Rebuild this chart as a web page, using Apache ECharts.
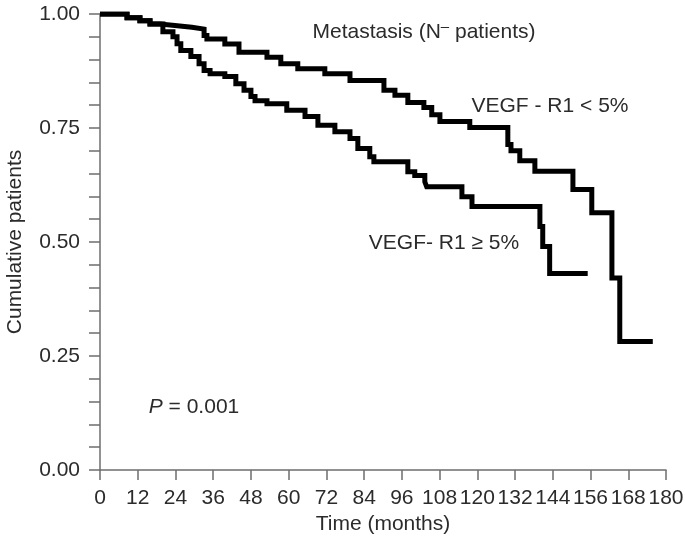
<!DOCTYPE html>
<html>
<head>
<meta charset="utf-8">
<script src="https://cdn.jsdelivr.net/npm/echarts@6/dist/echarts.min.js"></script>
<style>html,body{margin:0;padding:0;background:#fff}#c{width:685px;height:542px}</style>
</head>
<body>
<div id="c"></div>
<script>
// Time of each drop (months) and cumulative value after the drop
var lowTimes  = [0, 8.6, 12.7, 15.9, 19.1, 23.8, 29.2, 33.1, 34.0, 39.7, 44.2, 53.1, 57.5, 62.9, 71.5, 79.5, 90.3, 93.8, 97.9, 103.0, 105.5, 108.1, 117.6, 129.7, 130.7, 133.5, 138.3, 150.4, 156.4, 162.8, 165.3, 175.8];
var lowValues = [1.000, 0.992, 0.985, 0.978, 0.975, 0.971, 0.967, 0.953, 0.945, 0.934, 0.916, 0.905, 0.891, 0.880, 0.869, 0.854, 0.833, 0.822, 0.806, 0.795, 0.779, 0.764, 0.751, 0.714, 0.700, 0.678, 0.655, 0.615, 0.564, 0.421, 0.282, 0.282];

var highTimes  = [0, 8.6, 12.7, 15.9, 20.0, 23.2, 24.5, 25.7, 28.9, 31.5, 33.1, 35.0, 39.7, 43.2, 45.8, 48.0, 49.3, 53.1, 59.4, 65.2, 69.3, 74.7, 79.5, 82.0, 85.8, 87.1, 97.9, 100.1, 103.3, 103.9, 115.1, 118.3, 139.9, 140.8, 143.0, 155.1];
var highValues = [1.000, 0.992, 0.985, 0.978, 0.961, 0.950, 0.935, 0.920, 0.907, 0.891, 0.876, 0.869, 0.863, 0.847, 0.833, 0.819, 0.810, 0.803, 0.789, 0.775, 0.756, 0.742, 0.727, 0.705, 0.687, 0.676, 0.654, 0.646, 0.632, 0.621, 0.599, 0.578, 0.534, 0.490, 0.431, 0.431];

var xTicks = [0, 12, 24, 36, 48, 60, 72, 84, 96, 108, 120, 132, 144, 156, 168, 180];
var yTicks = [0.00, 0.25, 0.50, 0.75, 1.00];

function pairs(t, v) { return t.map(function (x, i) { return [x, v[i]]; }); }

var FONT = '"Liberation Sans", Arial, Helvetica, sans-serif';
var TXT = '#2b2b2b';
var AX = '#6e6e6e';
var FS = 21;

var chart = echarts.init(document.getElementById('c'), null, {renderer: 'canvas'});
chart.setOption({
  animation: false,
  backgroundColor: '#fff',
  textStyle: {fontFamily: FONT},
  grid: {left: 100, right: 19, top: 14, bottom: 72, containLabel: false, outerBoundsMode: 'none'},
  xAxis: {
    type: 'value', min: 0, max: 180, interval: 12,
    name: 'Time (months)', nameLocation: 'middle', nameGap: 42,
    nameTextStyle: {fontSize: FS, color: TXT, fontFamily: FONT},
    axisLine: {show: true, lineStyle: {color: AX, width: 1.5}},
    axisTick: {show: true, length: 10, lineStyle: {color: AX, width: 1.5}},
    axisLabel: {fontSize: FS, color: TXT, margin: 18, fontFamily: FONT,
      formatter: function (v) { return xTicks.indexOf(v) >= 0 ? String(v) : ''; }},
    splitLine: {show: false}
  },
  yAxis: {
    type: 'value', min: 0, max: 1, interval: 0.25,
    name: 'Cumulative patients', nameLocation: 'middle', nameGap: 74, nameRotate: 90,
    nameTextStyle: {fontSize: FS, color: TXT, fontFamily: FONT},
    axisLine: {show: true, lineStyle: {color: AX, width: 1.5}},
    axisTick: {show: true, length: 11, lineStyle: {color: AX, width: 1.5}},
    minorTick: {show: true, splitNumber: 5, length: 11, lineStyle: {color: AX, width: 1.5}},
    axisLabel: {fontSize: FS, color: TXT, margin: 20, fontFamily: FONT,
      formatter: function (v) {
        for (var i = 0; i < yTicks.length; i++) if (Math.abs(yTicks[i] - v) < 1e-6) return yTicks[i].toFixed(2);
        return '';
      }},
    splitLine: {show: false},
    minorSplitLine: {show: false}
  },
  series: [
    {type: 'line', step: 'end', symbol: 'none', data: pairs(lowTimes, lowValues),
     lineStyle: {color: '#000', width: 5, join: 'miter', cap: 'butt'}, z: 3},
    {type: 'line', step: 'end', symbol: 'none', data: pairs(highTimes, highValues),
     lineStyle: {color: '#000', width: 5, join: 'miter', cap: 'butt'}, z: 3}
  ],
  graphic: [
    {type: 'text', x: 424, y: 32, style: {
      text: '{a|Metastasis (N}{s|\u2013}{a| patients)}',
      align: 'center', verticalAlign: 'middle',
      rich: {
        a: {fontSize: FS, fill: TXT, fontFamily: FONT},
        s: {fontSize: 15, fill: TXT, fontFamily: FONT, padding: [0, 0, 11, 0]}
      }}},
    {type: 'text', x: 550, y: 106, style: {text: 'VEGF - R1 < 5%', fontSize: FS, fill: TXT, fontFamily: FONT, align: 'center', verticalAlign: 'middle'}},
    {type: 'text', x: 444, y: 243, style: {text: 'VEGF- R1 \u2265 5%', fontSize: FS, fill: TXT, fontFamily: FONT, align: 'center', verticalAlign: 'middle'}},
    {type: 'text', x: 194, y: 407, style: {
      text: '{i|P}{a| = 0.001}', align: 'center', verticalAlign: 'middle',
      rich: {
        i: {fontSize: FS, fontStyle: 'italic', fill: TXT, fontFamily: FONT},
        a: {fontSize: FS, fill: TXT, fontFamily: FONT}
      }}}
  ]
});
</script>
</body>
</html>
